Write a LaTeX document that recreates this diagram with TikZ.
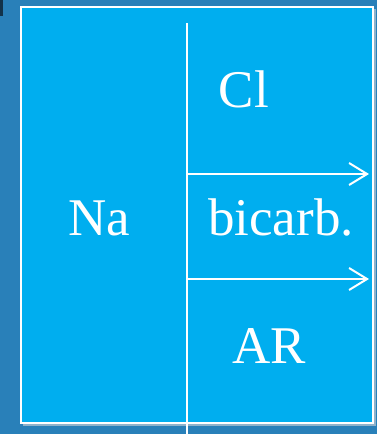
\documentclass[tikz,border=0pt]{standalone}
\usepackage{fontspec}
\setmainfont{Liberation Serif}
\usetikzlibrary{arrows.meta}
\definecolor{bgblue}{HTML}{2980B9}
\definecolor{panel}{HTML}{00AEEF}
\definecolor{shadowc}{HTML}{8FB3CC}
\definecolor{markc}{HTML}{12324A}
\tikzset{
  lbl/.style={text=white, font=\fontsize{53}{60}\selectfont, anchor=base, inner sep=0pt},
  wline/.style={draw=white, line width=2pt},
  flow/.style={wline, -{Straight Barb[length=18pt,width=22pt,line width=2pt]}}
}
\begin{document}
\begin{tikzpicture}[x=1pt,y=-1pt]
\useasboundingbox (0,0) rectangle (377,434);
\fill[bgblue] (0,0) rectangle (377,434);
\fill[markc] (0,0) rectangle (3,16);
% shadow
\draw[shadowc, line width=1.5pt] (23,425) -- (375,425) -- (375,9);
% panel
\fill[panel] (21,7) rectangle (373,423);
\draw[wline] (21,7) rectangle (373,423);
% divider
\coordinate (top) at (187,23);
\coordinate (bot) at (187,434);
\draw[wline] (top) -- (bot);
\coordinate (a1s) at (187,174);
\coordinate (a1e) at (369,174);
\coordinate (a2s) at (187,279);
\coordinate (a2e) at (369,279);
\draw[flow] (a1s) -- (a1e);
\draw[flow] (a2s) -- (a2e);
% labels
\node[lbl] (cl) at (244,107) {Cl};
\node[lbl] (na) at (99,235) {Na};
\node[lbl] (bic) at (281,235) {bicarb.};
\node[lbl] (ar) at (269,363) {AR};
\end{tikzpicture}
\end{document}
